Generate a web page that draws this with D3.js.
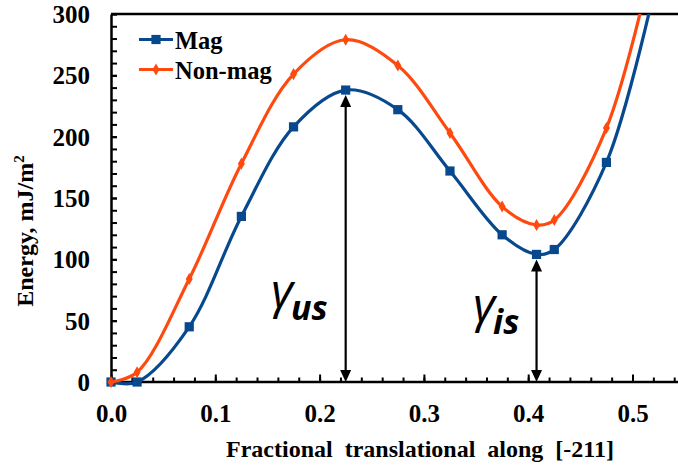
<!DOCTYPE html>
<html><head><meta charset="utf-8">
<script src="https://cdn.jsdelivr.net/npm/d3@7"></script>
<style>body{margin:0;background:#fff} svg{display:block}</style>
</head><body>
<svg id="c" width="678" height="468"></svg>
<script>
// ---- data ----
const xValues      = [0, 0.025, 0.075, 0.125, 0.175, 0.225, 0.275, 0.325, 0.375, 0.408, 0.425, 0.475, 0.525];
const magValues    = [0, 0,     45,    135,   208,   238,   222,   172,   120,   104,   108,   179,   335];
const nonMagValues = [0, 8,     84,    178,   251,   279,   258,   203,   143,   128,   132,   207,   365];
const seriesNames  = ["Mag", "Non-mag"];
const xTickValues  = [0, 0.1, 0.2, 0.3, 0.4, 0.5];
const xTickLabels  = ["0.0", "0.1", "0.2", "0.3", "0.4", "0.5"];
const yTickValues  = [0, 50, 100, 150, 200, 250, 300];
const yTickLabels  = ["0", "50", "100", "150", "200", "250", "300"];
const gammaLabels  = [{sub: "us", x: 0.225, y: 238}, {sub: "is", x: 0.408, y: 104}];
const xTitle = "Fractional translational along [-211]";
const yTitle = "Energy, mJ/m";

const colors = {Mag: "#08498e", "Non-mag": "#ff4a0f"};
const svg = d3.select("#c");
const serif = "'Liberation Serif','Times New Roman',serif";

const x = d3.scaleLinear().domain([0, 0.6]).range([111, 111 + 625.8]);
const y = d3.scaleLinear().domain([0, 300]).range([382, 14]);

svg.append("defs").append("clipPath").attr("id", "plot")
  .append("rect").attr("x", 0).attr("y", y(300)).attr("width", 678).attr("height", y(0) - y(300) + 30);

// top frame line
svg.append("line").attr("x1", x(0)).attr("x2", 678).attr("y1", y(300)).attr("y2", y(300))
  .attr("stroke", "#000").attr("stroke-width", 2.5);

// minor ticks
const xMinor = d3.range(0, 0.6001, 0.02);
svg.append("g").attr("transform", `translate(0,${y(0)})`)
  .call(d3.axisBottom(x).tickValues(xMinor).tickSizeInner(-4.5).tickSizeOuter(0).tickFormat(""))
  .call(g => g.select(".domain").remove())
  .call(g => g.selectAll("line").attr("stroke-width", 2));
const yMinor = d3.range(0, 301, 10);
svg.append("g").attr("transform", `translate(${x(0)},0)`)
  .call(d3.axisLeft(y).tickValues(yMinor).tickSizeInner(-6).tickSizeOuter(0).tickFormat(""))
  .call(g => g.select(".domain").remove())
  .call(g => g.selectAll("line").attr("stroke-width", 2));

// major axes
const gx = svg.append("g").attr("transform", `translate(0,${y(0)})`)
  .call(d3.axisBottom(x).tickValues(xTickValues).tickSizeInner(-7.5).tickSizeOuter(0)
    .tickFormat((d, i) => xTickLabels[i]));
gx.select(".domain").attr("stroke-width", 2.5).attr("d", `M${x(0)},0H${678}`);
gx.selectAll("line").attr("stroke-width", 2);
gx.selectAll("text").attr("y", 40).attr("dy", 0)
  .attr("font-family", serif).attr("font-weight", "bold").attr("font-size", 25).attr("fill", "#000");

const gy = svg.append("g").attr("transform", `translate(${x(0)},0)`)
  .call(d3.axisLeft(y).tickValues(yTickValues).tickSizeInner(-6).tickSizeOuter(0)
    .tickFormat((d, i) => yTickLabels[i]));
gy.select(".domain").attr("stroke-width", 2.5);
gy.selectAll("line").attr("stroke-width", 2);
gy.selectAll("text").attr("x", -21).attr("dy", "0.34em")
  .attr("font-family", serif).attr("font-weight", "bold").attr("font-size", 25).attr("fill", "#000");

// titles
svg.append("text").attr("x", 420).attr("y", 457).attr("text-anchor", "middle")
  .attr("font-family", serif).attr("font-weight", "bold").attr("font-size", 24)
  .attr("word-spacing", 6).text(xTitle);
const yt = svg.append("text").attr("transform", "translate(33,231) rotate(-90)").attr("text-anchor", "middle")
  .attr("font-family", serif).attr("font-weight", "bold").attr("font-size", 24);
yt.append("tspan").text(yTitle);
yt.append("tspan").attr("font-size", 15).attr("dy", -9).text("2");

// series
const series = [
  {name: seriesNames[0], values: magValues},
  {name: seriesNames[1], values: nonMagValues}
];
const line = d3.line().x((d, i) => x(xValues[i])).y(d => y(d)).curve(d3.curveCatmullRom.alpha(0.5));
const plot = svg.append("g").attr("clip-path", "url(#plot)");
const diamond = d3.symbol().type(d3.symbolDiamond).size(42);
series.forEach(s => {
  plot.append("path").datum(s.values).attr("d", line).attr("fill", "none")
    .attr("stroke", colors[s.name]).attr("stroke-width", 3.2);
  const m = plot.append("g");
  if (s.name === "Mag") {
    m.selectAll("rect").data(s.values).join("rect")
      .attr("x", (d, i) => x(xValues[i]) - 4.6).attr("y", d => y(d) - 4.6)
      .attr("width", 9.2).attr("height", 9.2).attr("fill", colors[s.name]);
  } else {
    m.selectAll("path").data(s.values).join("path")
      .attr("transform", (d, i) => `translate(${x(xValues[i])},${y(d)})`)
      .attr("d", diamond).attr("fill", colors[s.name]);
  }
});

// double arrows
const ah = 12, aw = 5.5;
gammaLabels.forEach(g => {
  const cx = x(g.x), top = y(g.y) + 5, bot = y(0);
  svg.append("line").attr("x1", cx).attr("x2", cx).attr("y1", top + ah - 1).attr("y2", bot - ah + 1)
    .attr("stroke", "#000").attr("stroke-width", 2.2);
  svg.append("path").attr("d", `M${cx},${top}L${cx - aw},${top + ah}L${cx + aw},${top + ah}Z`).attr("fill", "#000");
  svg.append("path").attr("d", `M${cx},${bot}L${cx - aw},${bot - ah}L${cx + aw},${bot - ah}Z`).attr("fill", "#000");
});

// gamma labels
const gpos = [{x: 271, y: 308}, {x: 473, y: 322}];
gammaLabels.forEach((g, i) => {
  const t = svg.append("text").attr("x", gpos[i].x).attr("y", gpos[i].y)
    .attr("font-family", "'Open Sans','Noto Sans',sans-serif").attr("font-style", "italic");
  t.append("tspan").attr("font-size", 48).attr("font-weight", "normal").text("γ");
  t.append("tspan").attr("font-size", 34).attr("font-weight", "bold").attr("dy", 12).attr("dx", -2).text(g.sub);
});

// legend
const lg = svg.append("g");
series.forEach((s, i) => {
  const ly = 39.5 + i * 30;
  lg.append("line").attr("x1", 139).attr("x2", 173).attr("y1", ly).attr("y2", ly)
    .attr("stroke", colors[s.name]).attr("stroke-width", 3.2);
  if (s.name === "Mag") {
    lg.append("rect").attr("x", 156 - 4.6).attr("y", ly - 4.6).attr("width", 9.2).attr("height", 9.2).attr("fill", colors[s.name]);
  } else {
    lg.append("path").attr("transform", `translate(156,${ly})`).attr("d", diamond).attr("fill", colors[s.name]);
  }
  lg.append("text").attr("x", 175).attr("y", ly + 9.5).attr("font-family", serif)
    .attr("font-weight", "bold").attr("font-size", 24.5).text(s.name);
});
</script>
</body></html>
